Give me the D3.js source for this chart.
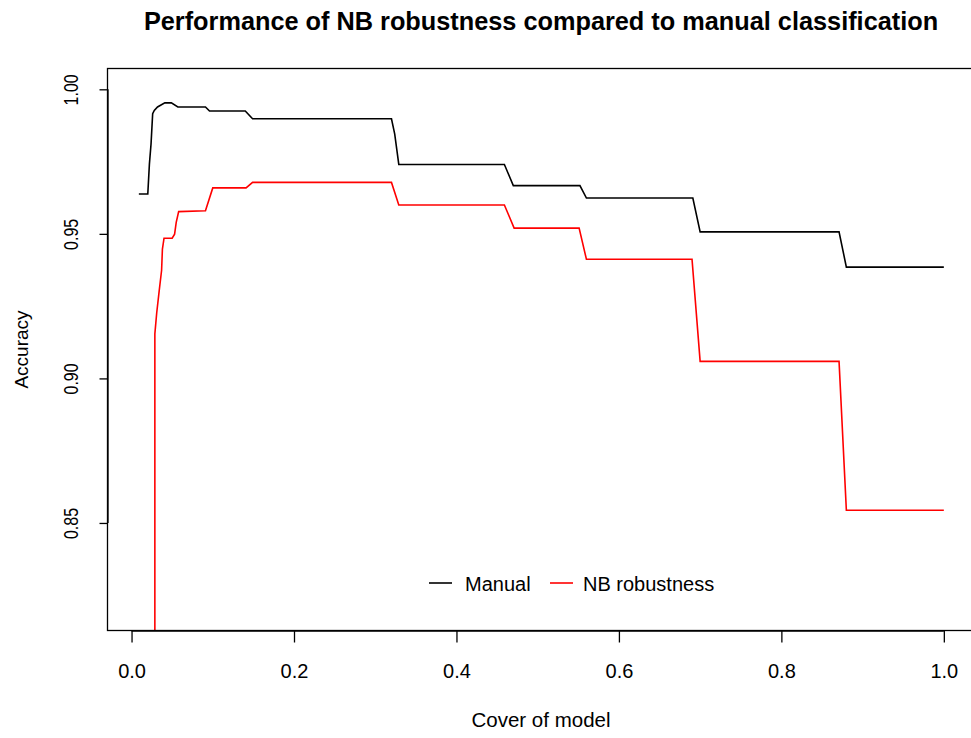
<!DOCTYPE html>
<html>
<head>
<meta charset="utf-8">
<script src="https://cdn.jsdelivr.net/npm/d3@7"></script>
<style>
  html, body { margin: 0; padding: 0; background: #fff; }
  svg { display: block; font-family: "Liberation Sans", Arial, sans-serif; }
</style>
</head>
<body>
<svg id="chart" width="971" height="738"></svg>
<script>
// ---- Data ----
const titleText = "Performance of NB robustness compared to manual classification";
const xLabel = "Cover of model";
const yLabel = "Accuracy";
const xTicks = [0.0, 0.2, 0.4, 0.6, 0.8, 1.0];
const yTicks = [0.85, 0.90, 0.95, 1.00];
const seriesNames = ["Manual", "NB robustness"];
const seriesColors = ["#000000", "#ff0000"];

const manualX = [0.009, 0.020, 0.022, 0.024, 0.026, 0.028, 0.032, 0.041, 0.049, 0.057, 0.091, 0.096, 0.140, 0.149, 0.320, 0.324, 0.329, 0.459, 0.470, 0.552, 0.560, 0.691, 0.700, 0.871, 0.880, 1.000];
const manualY = [0.9638, 0.9638, 0.9742, 0.9811, 0.9916, 0.9927, 0.9939, 0.9953, 0.9953, 0.9939, 0.9939, 0.9925, 0.9925, 0.9898, 0.9898, 0.9845, 0.9740, 0.9740, 0.9667, 0.9667, 0.9624, 0.9624, 0.9507, 0.9507, 0.9385, 0.9385];

const nbX = [0.0287, 0.0287, 0.031, 0.034, 0.037, 0.038, 0.040, 0.050, 0.053, 0.055, 0.058, 0.091, 0.100, 0.141, 0.149, 0.320, 0.329, 0.459, 0.471, 0.551, 0.560, 0.690, 0.700, 0.871, 0.880, 1.000];
const nbY = [0.7500, 0.9154, 0.9227, 0.9302, 0.9374, 0.9447, 0.9485, 0.9485, 0.9499, 0.9540, 0.9577, 0.9580, 0.9659, 0.9659, 0.9678, 0.9678, 0.9600, 0.9600, 0.9520, 0.9520, 0.9412, 0.9412, 0.9059, 0.9059, 0.8544, 0.8544];

// ---- Layout ----
const svg = d3.select("#chart");
const plot = { left: 107.5, right: 976, top: 68.5, bottom: 630.5 };

const x = d3.scaleLinear().domain([-0.0296, 1.0396]).range([plot.left, plot.right]);
const y = d3.scaleLinear().domain([0.8128, 1.0072]).range([plot.bottom, plot.top]);

svg.append("defs").append("clipPath").attr("id", "clip")
  .append("rect")
  .attr("x", plot.left).attr("y", plot.top)
  .attr("width", plot.right - plot.left).attr("height", plot.bottom - plot.top);

// Series lines
const line = d3.line().x(d => x(d[0])).y(d => y(d[1]));
const series = [
  d3.zip(manualX, manualY),
  d3.zip(nbX, nbY)
];
const g = svg.append("g").attr("clip-path", "url(#clip)");
series.forEach((s, i) => {
  g.append("path")
    .datum(s)
    .attr("d", line)
    .attr("fill", "none")
    .attr("stroke", seriesColors[i])
    .attr("stroke-width", 1.6)
    .attr("stroke-linejoin", "miter");
});

// Box
svg.append("rect")
  .attr("x", plot.left).attr("y", plot.top)
  .attr("width", plot.right - plot.left).attr("height", plot.bottom - plot.top)
  .attr("fill", "none").attr("stroke", "#000").attr("stroke-width", 1.3);

// X axis
const xAxis = d3.axisBottom(x).tickValues(xTicks).tickSize(12).tickPadding(21)
  .tickFormat(d3.format(".1f"));
const xg = svg.append("g").attr("transform", `translate(0,${plot.bottom})`).call(xAxis);
xg.select(".domain").attr("d", `M${x(xTicks[0])},0.5H${x(xTicks[xTicks.length-1])}`)
  .attr("stroke", "#000").attr("stroke-width", 1.3);
xg.selectAll(".tick line").attr("stroke", "#000").attr("stroke-width", 1.3);
xg.selectAll(".tick text")
  .attr("font-family", "Liberation Sans, Arial, sans-serif")
  .attr("font-size", 20).attr("fill", "#000");

// Y axis
const yAxis = d3.axisLeft(y).tickValues(yTicks).tickSize(8).tickFormat(d3.format(".2f"));
const yg = svg.append("g").attr("transform", `translate(${plot.left},0)`).call(yAxis);
yg.select(".domain").attr("d", `M0.5,${y(yTicks[0])}V${y(yTicks[yTicks.length-1])}`)
  .attr("stroke", "#000").attr("stroke-width", 1.3);
yg.selectAll(".tick line").attr("stroke", "#000").attr("stroke-width", 1.3);
yg.selectAll(".tick text")
  .attr("font-family", "Liberation Sans, Arial, sans-serif")
  .attr("font-size", 20).attr("fill", "#000")
  .attr("text-anchor", "middle")
  .attr("x", null).attr("dy", null)
  .attr("transform", `translate(-30,0) rotate(-90) scale(0.8,1.05)`);

// Titles
svg.append("text")
  .attr("x", 541).attr("y", 30)
  .attr("text-anchor", "middle")
  .attr("font-weight", "bold")
  .attr("font-size", 25.3)
  .attr("fill", "#000")
  .text(titleText);

svg.append("text")
  .attr("x", 541).attr("y", 727)
  .attr("text-anchor", "middle")
  .attr("font-size", 20.5)
  .attr("fill", "#000")
  .text(xLabel);

svg.append("text")
  .attr("transform", `translate(28,${(plot.top + plot.bottom) / 2}) rotate(-90)`)
  .attr("text-anchor", "middle")
  .attr("font-size", 19)
  .attr("fill", "#000")
  .text(yLabel);

// Legend
const legendItems = [
  { name: seriesNames[0], color: seriesColors[0], x0: 429, x1: 452, tx: 465 },
  { name: seriesNames[1], color: seriesColors[1], x0: 550, x1: 573, tx: 583 }
];
const lg = svg.append("g");
legendItems.forEach(it => {
  lg.append("line").attr("x1", it.x0).attr("x2", it.x1).attr("y1", 583).attr("y2", 583)
    .attr("stroke", it.color).attr("stroke-width", 1.6);
  lg.append("text").attr("x", it.tx).attr("y", 591)
    .attr("font-size", 20).attr("fill", "#000").text(it.name);
});
</script>
</body>
</html>
